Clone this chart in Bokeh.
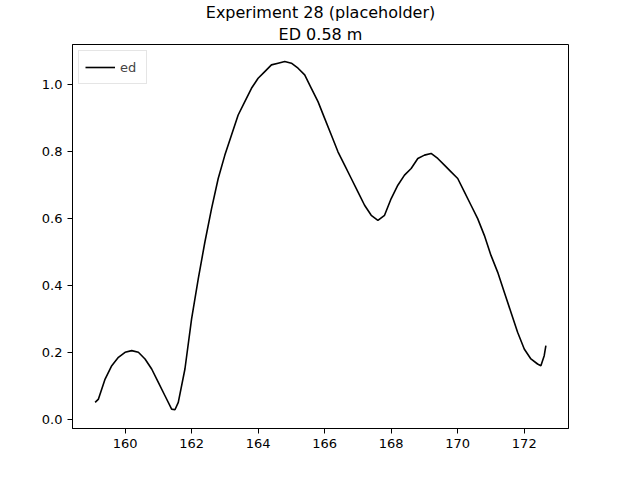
from bokeh.plotting import figure
from bokeh.models import Title, Range1d, FixedTicker, Legend, LegendItem, CustomJSTickFormatter
from bokeh.embed import file_html
from bokeh.resources import INLINE

x = [159.1,159.2,159.4,159.6,159.8,160.0,160.2,160.4,160.6,160.8,161.0,161.2,161.4,161.5,161.6,161.8,
     162.0,162.2,162.4,162.6,162.8,163.0,163.2,163.4,163.6,163.8,164.0,164.2,164.4,164.6,164.8,165.0,
     165.2,165.4,165.6,165.8,166.0,166.2,166.4,166.6,166.8,167.0,167.2,167.4,167.6,167.8,168.0,168.2,
     168.4,168.6,168.8,169.0,169.2,169.4,169.6,169.8,170.0,170.2,170.4,170.6,170.8,171.0,171.2,171.4,
     171.6,171.8,172.0,172.2,172.4,172.5,172.6,172.65]
ed = [0.05,0.06,0.12,0.16,0.185,0.20,0.205,0.20,0.18,0.15,0.11,0.07,0.03,0.028,0.05,0.15,
      0.30,0.42,0.53,0.63,0.72,0.79,0.85,0.91,0.95,0.99,1.02,1.04,1.06,1.065,1.07,1.065,
      1.05,1.03,0.99,0.95,0.90,0.85,0.80,0.76,0.72,0.68,0.64,0.61,0.595,0.61,0.66,0.70,
      0.73,0.75,0.78,0.79,0.795,0.78,0.76,0.74,0.72,0.68,0.64,0.60,0.55,0.49,0.44,0.38,
      0.32,0.26,0.21,0.18,0.165,0.16,0.19,0.22]
xticks = [160,162,164,166,168,170,172]
yticks = [0.0,0.2,0.4,0.6,0.8,1.0]

FONT = "DejaVu Sans"
p = figure(width=624, height=464, output_backend="svg", toolbar_location=None,
           x_range=Range1d(158.42, 173.33), y_range=Range1d(-0.028, 1.121),
           min_border_left=72, min_border_right=56, min_border_top=4, min_border_bottom=36)
p.title.text = "Experiment 28 (placeholder)"
p.title.align = "center"
p.title.text_font = FONT
p.title.text_font_size = "16px"
p.title.text_font_style = "normal"
p.title.text_color = "black"
p.title.standoff = 0
p.add_layout(Title(text="ED 0.58 m", align="center", text_font=FONT, text_color="black",
                   text_font_size="16px", text_font_style="normal", standoff=2), "above")
r = p.line(x, ed, line_color="black", line_width=1.6)
p.xgrid.visible = False
p.ygrid.visible = False
p.outline_line_color = "black"
p.xaxis.ticker = FixedTicker(ticks=xticks)
p.yaxis.ticker = FixedTicker(ticks=yticks)
p.yaxis.formatter = CustomJSTickFormatter(code="return tick.toFixed(1);")
for ax in (p.xaxis, p.yaxis):
    ax.major_label_text_font = FONT
    ax.major_label_text_font_size = "13px"
    ax.major_label_text_color = "black"
    ax.minor_tick_line_color = None
    ax.axis_line_color = "black"
    ax.major_tick_out = 5
    ax.major_tick_in = 0
leg = Legend(items=[LegendItem(label="ed", renderers=[r])], location="top_left",
             label_text_font=FONT, label_text_font_size="13px", border_line_color="#cccccc",
             glyph_width=30, padding=6, spacing=2, margin=6)
p.add_layout(leg)
open("out.html", "w").write(file_html(p, INLINE))
